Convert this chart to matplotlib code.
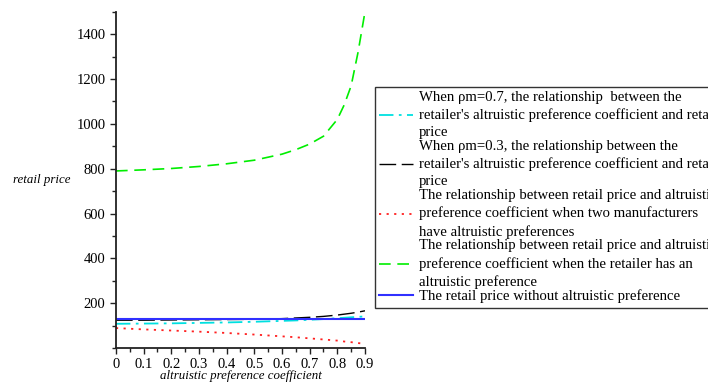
import numpy as np
import matplotlib.pyplot as plt
from matplotlib.ticker import MultipleLocator

plt.rcParams['font.family'] = ['Liberation Serif', 'DejaVu Serif']

# retailer altruistic preference coefficient
x = [0, 0.1, 0.2, 0.3, 0.4, 0.5, 0.6, 0.65, 0.7, 0.75, 0.8, 0.825, 0.85, 0.875, 0.9]

# retail price curves
p_rho07 = [108, 109, 110, 112, 114, 117, 121, 123, 126, 129, 133, 135, 137, 139, 141]
p_rho03 = [124, 124, 125, 126, 127, 128, 131, 134, 137, 141, 147, 151, 155, 160, 166]
p_manuf = [89, 83, 78, 73, 67, 60, 52, 48, 43, 38, 33, 29, 26, 22, 19]
p_retailer = [790, 795, 801, 810, 822, 838, 865, 885, 910, 945, 1020, 1085, 1170, 1320, 1500]
p_none = [130] * len(x)

labels = [
    "When \u03c1m=0.7, the relationship  between the\nretailer's altruistic preference coefficient and retail\nprice",
    "When \u03c1m=0.3, the relationship between the\nretailer's altruistic preference coefficient and retail\nprice",
    "The relationship between retail price and altruistic\npreference coefficient when two manufacturers\nhave altruistic preferences",
    "The relationship between retail price and altruistic\npreference coefficient when the retailer has an\naltruistic preference",
    "The retail price without altruistic preference",
]

fig = plt.figure(figsize=(7.08, 3.82), dpi=100)
ax = fig.add_axes([0.1638, 0.089, 0.3517, 0.880])

ax.plot(x, p_rho07, color='#00e0e0', linestyle=(0, (8, 3, 1.5, 3)), lw=1.3, label=labels[0])
ax.plot(x, p_rho03, color='black', linestyle=(0, (12, 4)), lw=1.0, label=labels[1])
ax.plot(x, p_manuf, color='#ff2020', linestyle=(0, (1.2, 3)), lw=1.3, label=labels[2])
ax.plot(x, p_retailer, color='#00ee00', linestyle=(0, (7, 4)), lw=1.2, label=labels[3])
ax.plot(x, p_none, color='#3030ff', linestyle='-', lw=1.5, label=labels[4])

ax.set_xlim(0, 0.9)
ax.set_ylim(0, 1500)
ax.spines['top'].set_visible(False)
ax.spines['right'].set_visible(False)
for s in ('left', 'bottom'):
    ax.spines[s].set_linewidth(1.3)
    ax.spines[s].set_color('#222222')

ax.xaxis.set_minor_locator(MultipleLocator(0.05))
ax.yaxis.set_minor_locator(MultipleLocator(100))
ax.set_yticks([200, 400, 600, 800, 1000, 1200, 1400])
ax.set_xticks(np.arange(0, 0.91, 0.1))
ax.set_xticklabels(['0'] + ['%.1f' % v for v in np.arange(0.1, 0.91, 0.1)])
ax.tick_params(which='major', length=4, width=1, labelsize=10.5, color='#222222')
ax.tick_params(which='minor', length=3, width=1, color='#222222')

ax.set_xlabel('altruistic preference coefficient', fontstyle='italic', fontsize=9.3, labelpad=-1)
ax.set_ylabel('retail price', fontstyle='italic', fontsize=9.3, rotation=0, va='center', ha='left')
ax.yaxis.set_label_coords(-0.415, 0.5)

leg = fig.legend(loc='upper left', bbox_to_anchor=(0.529, 0.773), fontsize=10.6,
                 frameon=True, fancybox=False, edgecolor='black', handlelength=2.3,
                 handletextpad=0.4, borderpad=0.3, labelspacing=0.05, borderaxespad=0)
leg.get_frame().set_linewidth(1.0)
for t in leg.get_texts():
    t.set_linespacing(1.41)

fig.savefig('out.png', dpi=100)
